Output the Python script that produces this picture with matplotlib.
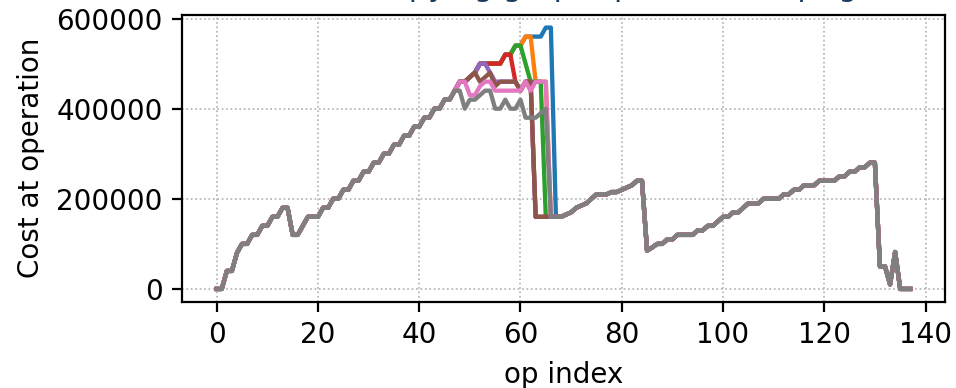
import matplotlib
matplotlib.use("Agg")
import matplotlib.pyplot as plt

# baseline run (grey), one value per op
gray = [0, 0, 40000, 40000, 80000, 100000, 100000, 120000, 120000, 140000,
        140000, 160000, 160000, 180000, 180000, 120000, 120000, 140000, 160000, 160000,
        160000, 180000, 180000, 200000, 200000, 220000, 220000, 240000, 240000, 260000,
        260000, 280000, 280000, 300000, 300000, 320000, 320000, 340000, 340000, 360000,
        360000, 380000, 380000, 400000, 400000, 420000, 420000, 440000, 440000, 400000,
        420000, 420000, 430000, 440000, 440000, 400000, 400000, 420000, 400000, 400000,
        420000, 380000, 380000, 380000, 390000, 400000, 160000, 160000, 160000, 165000,
        170000, 180000, 185000, 190000, 200000, 210000, 210000, 210000, 215000, 215000,
        220000, 225000, 230000, 240000, 240000, 85000, 92000, 100000, 100000, 110000,
        110000, 120000, 120000, 120000, 120000, 130000, 130000, 140000, 140000, 150000,
        160000, 160000, 170000, 170000, 180000, 190000, 190000, 190000, 200000, 200000,
        200000, 200000, 210000, 210000, 220000, 220000, 230000, 230000, 230000, 240000,
        240000, 240000, 240000, 250000, 250000, 260000, 260000, 270000, 270000, 280000,
        280000, 50000, 50000, 10000, 82000, 0, 0, 0]

# other runs: same as their parent run except from a start op onwards
pink_start = 48
pink_vals = [460000, 460000, 430000, 430000, 450000, 460000, 460000, 440000, 440000,
             440000, 440000, 440000, 440000, 460000, 440000, 460000, 460000, 460000]
brown_start = 50
brown_vals = [470000, 480000, 460000, 470000, 480000, 450000, 460000, 460000, 460000,
              460000, 440000, 460000, 460000, 160000, 160000, 160000]
purple_start = 52
purple_vals = [500000, 500000, 480000, 460000]
red_start = 54
red_vals = [500000, 500000, 500000, 520000, 520000, 460000]
green_start = 59
green_vals = [540000, 540000, 500000, 460000, 460000, 460000, 160000]
orange_start = 61
orange_vals = [560000, 560000, 460000, 460000, 460000, 160000]
blue_start = 63
blue_vals = [560000, 560000, 580000, 580000, 160000]


def branch(parent, start, vals):
    s = list(parent)
    s[start:start + len(vals)] = vals
    return s


pink = branch(gray, pink_start, pink_vals)
brown = branch(pink, brown_start, brown_vals)
purple = branch(brown, purple_start, purple_vals)
red = branch(purple, red_start, red_vals)
green = branch(red, green_start, green_vals)
orange = branch(green, orange_start, orange_vals)
blue = branch(orange, blue_start, blue_vals)

plt.rcParams['font.family'] = 'DejaVu Sans'
plt.rcParams['font.size'] = 10

fig = plt.figure(figsize=(4.78, 1.94), dpi=200)
ax = fig.add_axes([0.1904, 0.2216, 0.7981, 0.7410])

for s in [blue, orange, green, red, purple, brown, pink, gray]:
    ax.plot(range(len(s)), s, lw=1.55)

ax.set_xlabel('op index')
ax.set_ylabel('Cost at operation')
ax.set_xticks([0, 20, 40, 60, 80, 100, 120, 140])
ax.set_yticks([0, 200000, 400000, 600000])
ax.grid(True, linestyle=':', color='#b0b0b0', linewidth=0.6)
# title sits mostly above the saved area, as in the source picture
ax.set_title('Cost of copying graph (p) at each op (g)', color='#1a3a5e',
             fontsize=11, pad=6.7)

fig.savefig('out.png', dpi=200)
